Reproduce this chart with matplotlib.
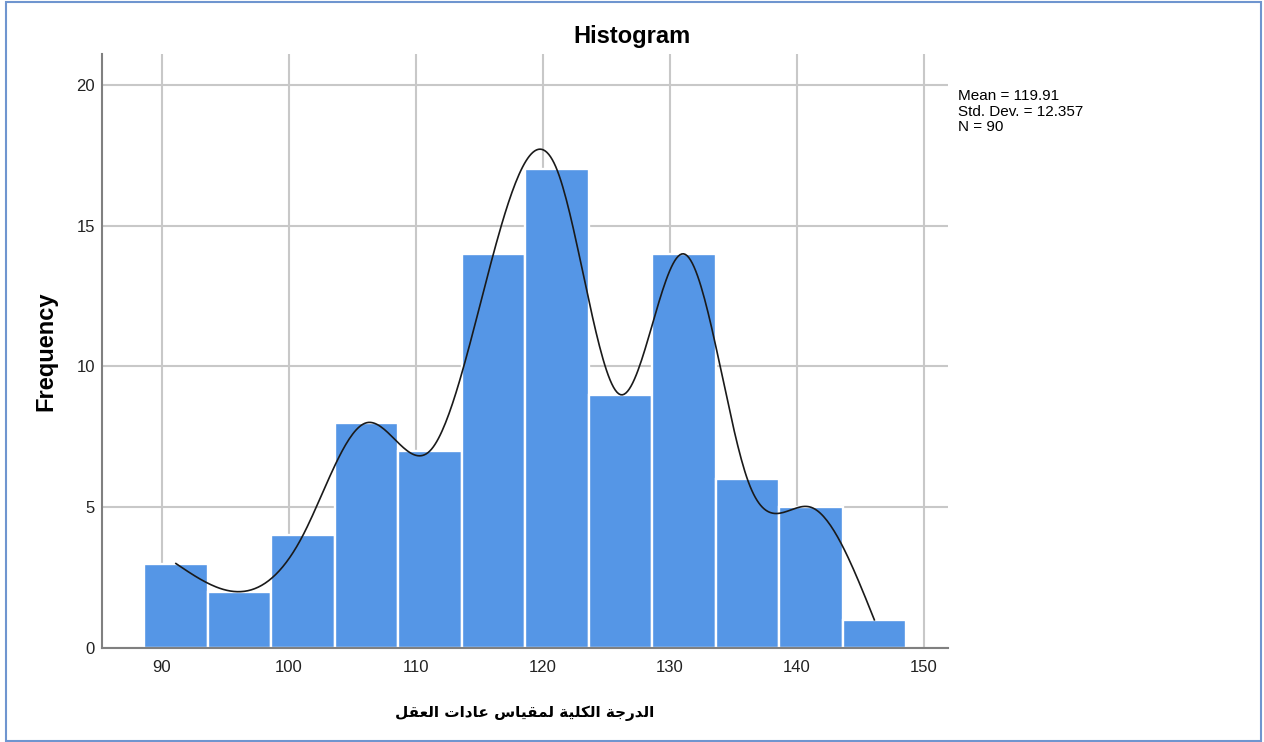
import numpy as np
import matplotlib.pyplot as plt
from matplotlib.patches import Rectangle

# Datos del histograma
bin_start = 88.6
bin_width = 5
counts = [3, 2, 4, 8, 7, 14, 17, 9, 14, 6, 5, 1]
xticks = [90, 100, 110, 120, 130, 140, 150]
yticks = [0, 5, 10, 15, 20]
stats_text = "Mean = 119.91\nStd. Dev. = 12.357\nN = 90"
xlabel_ar = "الدرجة الكلية لمقياس عادات العقل"

# Formas de presentación árabe (aislada, final, inicial, medial)
FORMS = {
    'ا': ('\uFE8D', '\uFE8E', None, None),
    'د': ('\uFEA9', '\uFEAA', None, None),
    'ر': ('\uFEAD', '\uFEAE', None, None),
    'ة': ('\uFE93', '\uFE94', None, None),
    'ل': ('\uFEDD', '\uFEDE', '\uFEDF', '\uFEE0'),
    'ج': ('\uFE9D', '\uFE9E', '\uFE9F', '\uFEA0'),
    'ك': ('\uFED9', '\uFEDA', '\uFEDB', '\uFEDC'),
    'ي': ('\uFEF1', '\uFEF2', '\uFEF3', '\uFEF4'),
    'م': ('\uFEE1', '\uFEE2', '\uFEE3', '\uFEE4'),
    'ق': ('\uFED5', '\uFED6', '\uFED7', '\uFED8'),
    'س': ('\uFEB1', '\uFEB2', '\uFEB3', '\uFEB4'),
    'ع': ('\uFEC9', '\uFECA', '\uFECB', '\uFECC'),
    'ت': ('\uFE95', '\uFE96', '\uFE97', '\uFE98'),
}

def reshape(text):
    out = []
    for i, ch in enumerate(text):
        if ch not in FORMS:
            out.append(ch)
            continue
        prev = text[i-1] if i > 0 else ''
        nxt = text[i+1] if i < len(text)-1 else ''
        joins_prev = prev in FORMS and FORMS[prev][2] is not None
        joins_next = FORMS[ch][2] is not None and nxt in FORMS
        f = FORMS[ch]
        if joins_prev and joins_next:
            out.append(f[3])
        elif joins_prev:
            out.append(f[1])
        elif joins_next:
            out.append(f[2])
        else:
            out.append(f[0])
    return ''.join(out)[::-1]

# Spline cúbico natural por los centros de las barras
def natural_spline(x, y, xs):
    n = len(x)
    h = np.diff(x)
    A = np.zeros((n, n))
    b = np.zeros(n)
    A[0, 0] = 1
    A[-1, -1] = 1
    for i in range(1, n-1):
        A[i, i-1] = h[i-1]
        A[i, i] = 2*(h[i-1] + h[i])
        A[i, i+1] = h[i]
        b[i] = 3*((y[i+1]-y[i])/h[i] - (y[i]-y[i-1])/h[i-1])
    c = np.linalg.solve(A, b)
    ys = np.zeros_like(xs)
    for k, xv in enumerate(xs):
        i = min(np.searchsorted(x, xv, side='right') - 1, n-2)
        i = max(i, 0)
        dx = xv - x[i]
        bi = (y[i+1]-y[i])/h[i] - h[i]*(2*c[i] + c[i+1])/3
        di = (c[i+1]-c[i])/(3*h[i])
        ys[k] = y[i] + bi*dx + c[i]*dx**2 + di*dx**3
    return ys

edges = bin_start + bin_width*np.arange(len(counts)+1)
centers = (edges[:-1] + edges[1:]) / 2
counts = np.array(counts, dtype=float)

plt.rcParams['font.family'] = ['Liberation Sans', 'DejaVu Sans']

fig = plt.figure(figsize=(12.64, 7.42), dpi=100)
ax = fig.add_axes([0.0807, 0.1267, 0.6693, 0.8005])

ax.bar(centers, counts, width=bin_width, color='#5596E6', edgecolor='white',
       linewidth=1.7, zorder=2)
xs = np.linspace(centers[0], centers[-1], 400)
ax.plot(xs, natural_spline(centers, counts, xs), color='#1a1a1a', lw=1.2, zorder=3)

ax.set_xlim(85.28, 151.9)
ax.set_ylim(0, 21.1)
ax.set_xticks(xticks)
ax.set_yticks(yticks)
ax.grid(True, color='#c8c8c8', lw=1.5, zorder=0)
ax.set_axisbelow(True)
ax.tick_params(length=0, labelsize=12, colors='#222222')
ax.tick_params(axis='x', pad=9)
ax.tick_params(axis='y', pad=5)
for s in ['top', 'right']:
    ax.spines[s].set_visible(False)
for s in ['left', 'bottom']:
    ax.spines[s].set_color('#808080')
    ax.spines[s].set_linewidth(1.5)

ax.set_ylabel('Frequency', fontsize=17, fontweight='bold', labelpad=14)
ax.set_xlabel(reshape(xlabel_ar), fontsize=11, fontweight='bold', labelpad=22,
              family=['DejaVu Sans'])

fig.text(0.5, 0.951, 'Histogram', fontsize=17, fontweight='bold',
         ha='center', va='center')
fig.text(0.758, 0.880, stats_text, fontsize=11, ha='left', va='top',
         linespacing=1.15)

# Marco azul
fig.patches.append(Rectangle((0.005, 0.002), 0.993, 0.995, transform=fig.transFigure,
                             fill=False, edgecolor='#6f95cf', lw=1.5))

fig.savefig('out.png', dpi=100)
